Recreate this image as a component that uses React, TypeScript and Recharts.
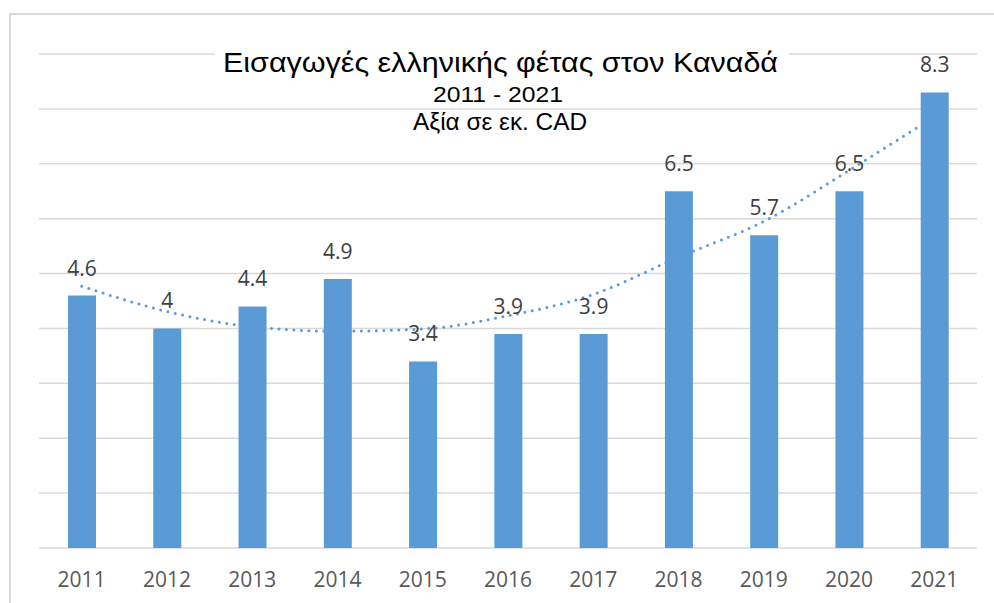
import { ComposedChart, Bar, Line, XAxis, YAxis, CartesianGrid, LabelList } from 'recharts';

const years = ['2011', '2012', '2013', '2014', '2015', '2016', '2017', '2018', '2019', '2020', '2021'];
const imports = [4.6, 4.0, 4.4, 4.9, 3.4, 3.9, 3.9, 6.5, 5.7, 6.5, 8.3];
// trendline (Excel polynomial trend)
const trend = [4.77, 4.31, 4.03, 3.95, 3.99, 4.23, 4.62, 5.3, 5.95, 6.88, 7.86];
const yTicks = [0, 1, 2, 3, 4, 5, 6, 7, 8, 9];

const data = years.map((year, i) => ({ year, value: imports[i], trend: trend[i] }));

const BLUE = '#5b9bd5';
const GRID = '#d9d9d9';

export default function App() {
    return (
        <div style={{ position: 'absolute', left: 0, top: 0, width: 994, height: 603, overflow: 'hidden', background: '#fff' }}>
            <div
                style={{
                    position: 'absolute',
                    left: 9,
                    top: 13,
                    width: 1000,
                    height: 620,
                    borderLeft: `2px solid ${GRID}`,
                    borderTop: `2px solid ${GRID}`,
                }}
            />
            <div style={{ position: 'absolute', left: 0, top: 0 }}>
                <ComposedChart width={994} height={603} data={data} margin={{ top: 54, right: 17, bottom: 25, left: 39 }}>
                    <CartesianGrid vertical={false} stroke={GRID} strokeWidth={1.5} />
                    <XAxis
                        dataKey="year"
                        axisLine={false}
                        tickLine={false}
                        height={30}
                        tickMargin={18}
                        tick={{ fill: '#595959', fontSize: 21, fontFamily: 'Open Sans' }}
                    />
                    <YAxis hide domain={[0, 9]} ticks={yTicks} />
                    <Line
                        dataKey="trend"
                        type="monotone"
                        stroke={BLUE}
                        strokeWidth={3}
                        strokeDasharray="0 7.5"
                        strokeLinecap="round"
                        dot={false}
                        activeDot={false}
                        isAnimationActive={false}
                        zIndex={200}
                    />
                    <Bar dataKey="value" fill={BLUE} barSize={28} isAnimationActive={false} zIndex={300}>
                        <LabelList
                            dataKey="value"
                            position="top"
                            offset={20}
                            fill="#404040"
                            fontSize={21}
                            fontFamily="Open Sans"
                        />
                    </Bar>
                </ComposedChart>
            </div>
            <svg width={994} height={603} style={{ position: 'absolute', left: 0, top: 0, pointerEvents: 'none' }}>
                <rect x={215} y={40} width={574} height={38} fill="#fff" />
                <text
                    x={500.5}
                    y={71.7}
                    textAnchor="middle"
                    fontFamily="Liberation Sans, Arial, sans-serif"
                    fontSize={28}
                    textLength={555}
                    lengthAdjust="spacingAndGlyphs"
                    fill="#000"
                >
                    Εισαγωγές ελληνικής φέτας στον Καναδά
                </text>
                <text
                    x={498}
                    y={101.7}
                    textAnchor="middle"
                    fontFamily="Liberation Sans, Arial, sans-serif"
                    fontSize={22}
                    textLength={130}
                    lengthAdjust="spacingAndGlyphs"
                    fill="#000"
                >
                    2011 - 2021
                </text>
                <text
                    x={500}
                    y={130}
                    textAnchor="middle"
                    fontFamily="Liberation Sans, Arial, sans-serif"
                    fontSize={23}
                    textLength={174}
                    lengthAdjust="spacingAndGlyphs"
                    fill="#000"
                >
                    Αξία σε εκ. CAD
                </text>
            </svg>
        </div>
    );
}
